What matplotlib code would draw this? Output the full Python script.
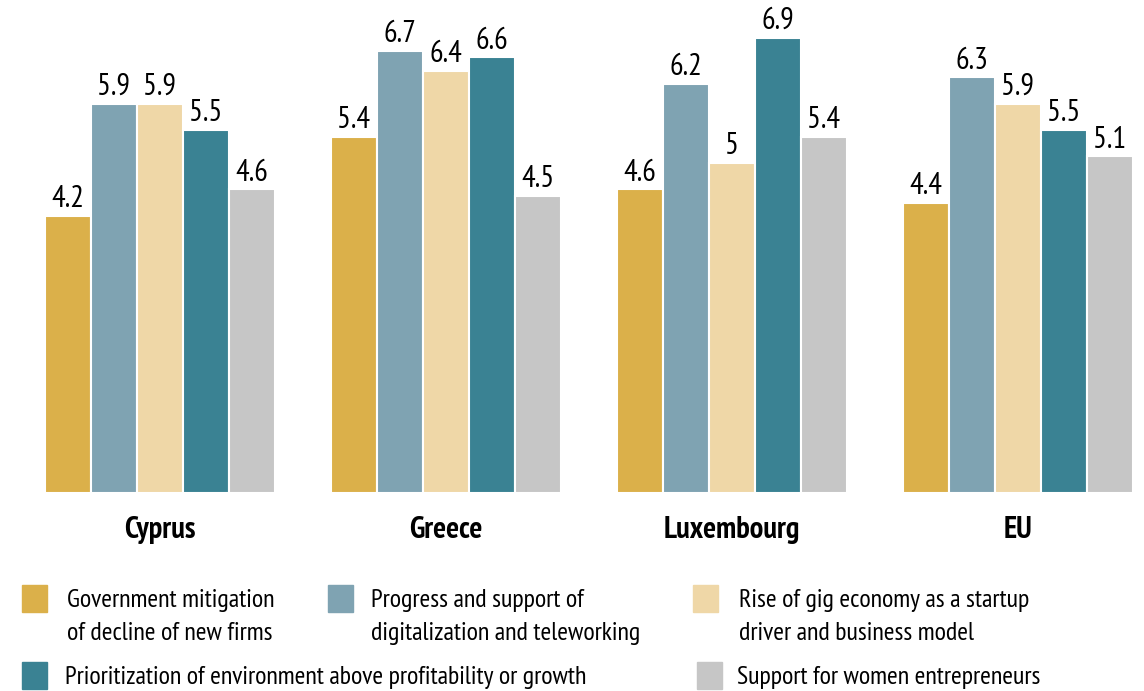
import numpy as np
import matplotlib.pyplot as plt
from matplotlib.patches import Rectangle

plt.rcParams['font.family'] = ['PT Sans Narrow', 'DejaVu Sans']

countries = ['Cyprus', 'Greece', 'Luxembourg', 'EU']
series = [
    'Government mitigation\nof decline of new firms',
    'Progress and support of\ndigitalization and teleworking',
    'Rise of gig economy as a startup\ndriver and business model',
    'Prioritization of environment above profitability or growth',
    'Support for women entrepreneurs',
]
values = [
    [4.2, 5.4, 4.6, 4.4],
    [5.9, 6.7, 6.2, 6.3],
    [5.9, 6.4, 5.0, 5.9],
    [5.5, 6.6, 6.9, 5.5],
    [4.6, 4.5, 5.4, 5.1],
]
colors = ['#dbb04a', '#7fa3b2', '#efd7a7', '#3a8293', '#c6c6c6']

fig = plt.figure(figsize=(11.44, 6.91), dpi=100)
ax = fig.add_axes([0, 0, 1, 1])
ax.set_xlim(-0.559, 3.441)
ax.set_ylim(-3.0, 7.47)
ax.axis('off')

x = np.arange(len(countries))
step = 46 / 286
for i, (vals, c) in enumerate(zip(values, colors)):
    pos = x + (i - 2) * step
    ax.bar(pos, vals, width=step, color=c, edgecolor='white', linewidth=1.5)
    for p, v in zip(pos, vals):
        ax.text(p, v + 0.04, f'{v:g}', ha='center', va='bottom', fontsize=22)

for xi, name in zip(x, countries):
    ax.text(xi, -0.56, name, ha='center', va='center', fontsize=22, fontweight='bold')

# legend drawn by hand: uneven layout
legend_pos = [(22, 599), (328, 599), (693, 599), (22, 676), (697, 676)]
text_gap = [45, 43, 46, 43, 40]
H = 691
for (px, py), gap, label, c in zip(legend_pos, text_gap, series, colors):
    fig.patches.append(Rectangle((px / 1144, (H - py - 13) / H), 25 / 1144, 27 / H,
                                 transform=fig.transFigure, color=c))
    fig.text((px + gap) / 1144, (H - py + 10) / H, label, ha='left', va='top',
             fontsize=18.7, linespacing=1.55)

fig.savefig('out.png', dpi=100)
